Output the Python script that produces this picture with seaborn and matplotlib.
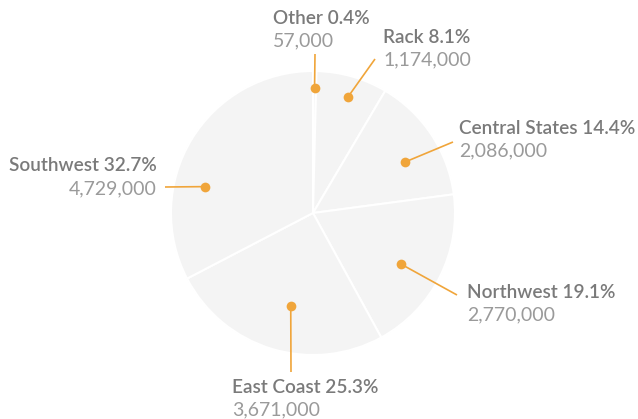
import numpy as np
import matplotlib
matplotlib.use("Agg")
import matplotlib.pyplot as plt
import seaborn as sns

categories = ["Other", "Rack", "Central States", "Northwest", "East Coast", "Southwest"]
values = [57000, 1174000, 2086000, 2770000, 3671000, 4729000]
percent_labels = ["0.4%", "8.1%", "14.4%", "19.1%", "25.3%", "32.7%"]

sns.set_theme(style="white")
plt.rcParams['font.family'] = ['Lato', 'DejaVu Sans']

W, H = 638, 419
CX, CY, R = 313, 213, 142  # pie centre and radius in pixels

fig = plt.figure(figsize=(W / 100, H / 100), dpi=100)
ax = fig.add_axes([0, 0, 1, 1])

def px(x, y):
    return ((x - CX) / R, (CY - y) / R)

wedges, _ = ax.pie(values, startangle=90, counterclock=False, radius=1,
                   colors=["#f4f4f4"] * len(values),
                   wedgeprops=dict(edgecolor="white", linewidth=1.5))
ax.set_aspect("auto")
ax.set_xlim(-CX / R, (W - CX) / R)
ax.set_ylim(-(H - CY) / R, CY / R)
ax.axis("off")

orange = "#f0a53a"
name_col = "#7a7a7a"
val_col = "#9a9a9a"

# label layout: (dot radius fraction, angle nudge deg, line end px, text anchor px, ha)
layout = [
    (0.88, 0.0, (315, 54), (273, 24, 46), "left"),
    (0.855, -0.8, (375, 59), (383, 43, 65), "left"),
    (0.74, -4.5, (453, 142), (459, 134, 156), "left"),
    (0.716, -3.3, (457, 295), (467, 298, 320), "left"),
    (0.673, 3.4, (291, 372), (232, 393, 415), "left"),
    (0.782, 17.5, (165, 187), (157, 171, 194), "right"),
]

for w, cat, v, pct, (rf, nudge, lend, (tx, ny, vy), ha) in zip(
        wedges, categories, values, percent_labels, layout):
    ang = np.deg2rad((w.theta1 + w.theta2) / 2 + nudge)
    dx, dy = rf * np.cos(ang), rf * np.sin(ang)
    ex, ey = px(*lend)
    ax.plot([dx, ex], [dy, ey], color=orange, lw=1.2, solid_capstyle="butt")
    ax.plot(dx, dy, "o", color=orange, ms=7, mec="none")
    x1, y1 = px(tx, ny)
    _, y2 = px(tx, vy)
    ax.text(x1, y1, f"{cat} {pct}", ha=ha, va="baseline", fontsize=13.7,
            color=name_col, fontweight="semibold")
    ax.text(x1, y2, f"{v:,}", ha=ha, va="baseline", fontsize=14,
            color=val_col)

fig.savefig("out.png", dpi=100, facecolor="white")
